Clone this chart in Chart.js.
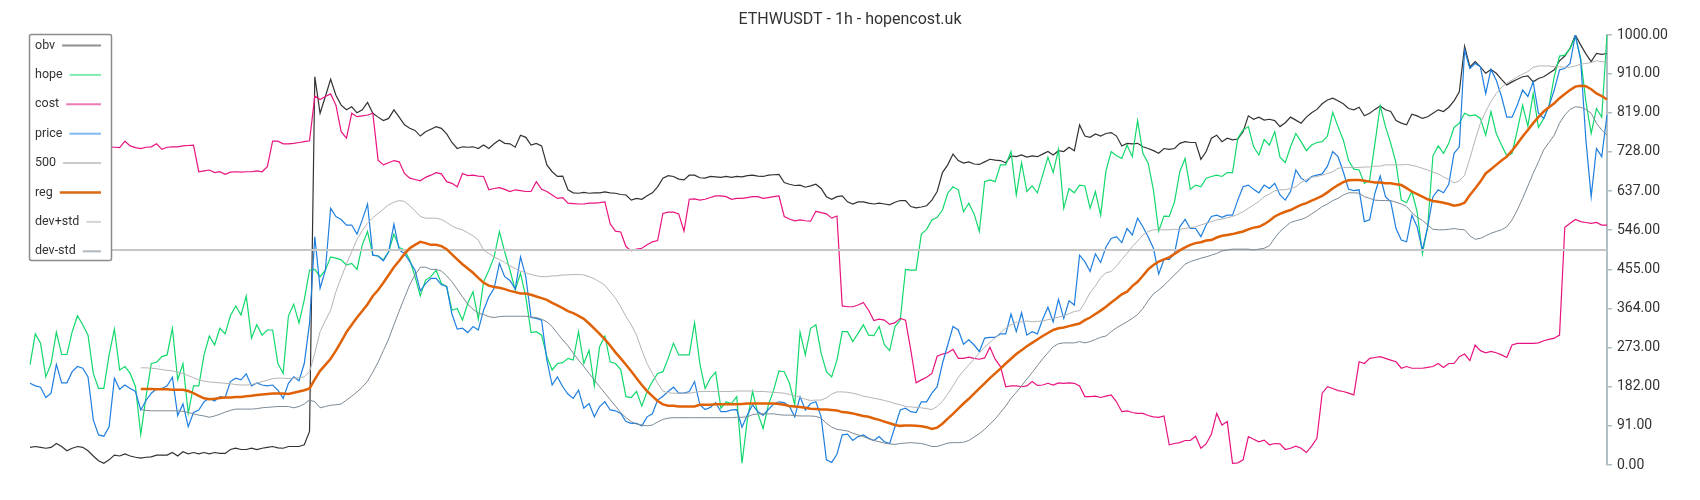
<!DOCTYPE html>
<html>
<head>
<meta charset="utf-8">
<script src="https://cdn.jsdelivr.net/npm/chart.js@4/dist/chart.umd.min.js"></script>
<style>
html,body{margin:0;padding:0;background:#ffffff;}
#wrap{width:1700px;height:500px;}
</style>
</head>
<body>
<div id="wrap"><canvas id="c" width="1700" height="500"></canvas></div>
<script>
const titleText = 'ETHWUSDT - 1h - hopencost.uk';
const yTicks = [0, 91, 182, 273, 364, 455, 546, 637, 728, 819, 910, 1000];

const obv = [
41,43,41,39,41,50,43,33,39,43,
41,33,21,10,4,12,23,21,26,21,
18,16,18,19,23,23,23,29,21,31,
26,29,26,29,26,29,27,27,36,39,
36,36,39,36,39,41,43,40,39,43,
43,43,47,78,903,818,857,897,860,837,
826,833,819,826,843,818,809,801,806,826,
809,791,783,778,765,775,781,787,783,770,
750,736,740,739,740,736,744,736,747,756,
748,747,739,767,762,744,748,742,698,682,
671,672,640,633,632,634,632,633,633,635,
633,632,629,628,616,620,618,626,633,647,
667,673,671,665,663,674,674,668,667,671,
670,669,671,669,671,670,673,674,672,671,
674,675,676,657,653,650,651,646,649,653,
643,624,618,624,626,612,607,612,612,609,
607,609,607,605,611,615,615,601,598,600,
603,616,636,680,698,723,708,702,705,700,
699,705,711,709,708,703,719,717,721,716,
719,717,723,729,721,731,729,739,731,791,
765,762,770,765,771,773,765,742,748,747,
748,740,736,731,725,736,734,736,748,752,
750,750,711,729,760,767,752,760,756,758,
775,812,804,809,802,804,801,787,796,809,
802,795,809,819,827,840,849,853,847,840,
829,826,832,812,818,827,835,826,822,801,
795,791,816,812,806,810,818,826,822,832,
847,868,974,926,938,926,911,920,911,897,
884,891,897,903,905,891,899,903,911,919,
940,951,969,1000,977,956,938,957,955,957
];

const hope = [
233,305,283,205,236,309,257,257,310,347,
326,302,213,178,178,256,316,221,229,213,
182,71,159,236,239,252,256,318,198,236,
120,184,184,256,300,279,318,305,347,370,
349,393,295,326,302,314,314,236,213,347,
374,330,384,453,455,438,453,484,481,477,
465,469,455,512,543,488,486,477,496,537,
506,500,477,438,393,430,438,453,422,415,
360,364,337,376,403,339,426,453,484,543,
496,453,407,446,391,308,310,302,252,221,
236,238,248,244,310,236,267,184,275,300,
240,236,222,159,157,171,137,171,194,213,
217,248,283,256,256,256,331,236,178,202,
216,132,147,143,159,4,105,171,120,85,
140,174,219,217,190,140,309,256,318,326,
260,217,205,244,310,310,287,306,326,302,
301,322,279,266,322,337,455,453,453,537,
548,570,576,593,632,647,640,589,609,584,
543,659,663,659,698,698,729,628,703,636,
649,633,674,716,680,734,597,643,633,651,
649,597,636,581,684,729,719,713,744,717,
801,725,702,640,544,579,578,612,682,713,
641,651,647,667,671,674,671,680,680,760,
779,787,740,721,757,744,775,716,703,740,
771,752,731,744,750,752,765,820,787,756,
708,688,686,655,663,748,835,787,748,702,
616,610,636,589,491,554,719,742,725,748,
785,795,818,812,814,806,767,822,771,744,
719,725,779,837,788,864,785,806,835,903,
951,953,969,996,946,845,771,829,809,1000
];

const cost = [
1000,745,745,745,745,745,745,745,745,745,
745,745,745,745,745,740,739,738,753,742,
738,736,739,740,747,734,739,740,740,742,
743,744,682,684,686,680,682,676,681,682,
681,682,682,684,682,694,753,753,747,747,
748,750,752,754,858,850,857,863,837,775,
760,818,810,812,814,818,709,698,703,708,
705,678,667,664,661,669,674,680,677,659,
655,647,678,673,674,672,671,640,643,645,
641,636,640,638,636,636,659,641,636,628,
620,622,609,608,607,607,609,609,610,612,
561,544,542,508,498,502,504,512,519,522,
585,588,588,584,544,618,619,616,618,622,
626,626,624,618,620,620,622,624,624,620,
622,624,626,578,572,568,570,568,567,590,
587,584,574,579,370,368,368,372,378,360,
336,339,337,327,331,341,337,267,191,198,
204,213,253,258,261,269,248,248,251,248,
246,249,274,246,229,182,184,184,182,184,
194,185,186,190,186,191,190,191,190,184,
159,159,160,157,160,163,147,124,126,122,
120,120,115,112,111,114,47,50,52,57,
57,67,39,49,72,120,93,101,4,5,
12,66,60,54,58,47,50,49,36,39,
44,39,29,44,62,167,182,178,173,171,
167,163,240,236,248,250,252,248,244,240,
225,229,225,225,225,227,229,236,227,236,
236,252,258,243,279,266,261,264,261,256,
250,279,283,283,283,283,284,289,292,295,
302,553,562,571,566,564,562,564,558,558
];

const price = [
190,184,181,157,167,234,191,191,217,229,
225,205,105,70,67,89,202,176,186,178,
171,128,150,167,177,178,184,204,115,142,
89,122,128,147,155,149,159,157,194,202,
198,212,184,191,186,184,186,174,155,190,
205,196,236,330,531,411,453,597,578,571,
558,558,537,570,607,488,486,475,496,560,
500,492,473,453,405,422,434,434,419,415,
351,316,318,308,322,314,360,391,411,469,
438,429,409,484,438,343,341,337,244,186,
205,182,165,155,174,132,143,112,136,147,
128,126,120,101,97,97,91,112,119,151,
160,171,181,167,167,171,194,140,129,134,
145,124,124,128,129,88,116,140,124,116,
129,142,147,145,136,112,159,128,143,147,
112,12,6,25,70,72,57,66,70,62,
57,66,54,50,89,128,132,124,122,147,
147,167,182,236,279,322,314,281,291,279,
264,295,297,297,305,305,351,310,354,302,
310,305,339,367,333,385,341,382,372,488,
473,450,491,471,507,527,531,517,550,535,
574,554,531,504,444,478,478,492,554,571,
550,550,531,558,578,581,576,581,581,616,
647,651,641,633,651,643,655,628,616,636,
686,667,659,671,674,677,695,729,717,682,
641,638,640,566,570,632,672,624,612,550,
523,519,581,554,500,554,624,640,633,653,
725,740,965,922,934,926,864,920,895,857,
809,809,837,872,857,891,818,806,835,872,
919,922,934,1000,942,756,624,736,717,814
];

const reg = [
null,null,null,null,null,null,null,null,null,null,
null,null,null,null,null,null,null,null,null,null,
null,177,177,177,176,176,176,175,175,175,
172,167,161,155,153,154,156,157,157,158,
158,160,161,163,164,165,166,166,166,165,
168,171,174,178,199,219,233,247,266,287,
309,326,343,358,374,393,407,424,442,460,
475,491,504,512,519,516,512,512,509,502,
490,478,467,457,447,435,424,417,414,412,
409,405,402,399,399,396,392,388,384,377,
371,365,358,353,347,340,329,317,305,292,
278,262,248,233,218,202,186,172,160,149,
141,138,138,136,136,136,136,140,140,140,
141,141,141,141,141,142,143,143,143,143,
143,143,142,140,137,136,135,133,131,130,
129,129,128,127,123,122,120,117,114,112,
108,105,101,97,93,91,92,92,91,90,
88,84,87,96,108,119,131,143,154,166,
178,190,202,213,224,236,247,258,267,276,
284,292,300,307,314,318,320,323,326,329,
337,343,351,359,368,378,387,397,403,416,
426,440,455,465,473,478,483,491,499,506,
512,516,518,522,523,529,533,535,537,540,
543,548,552,554,560,568,578,584,589,593,
599,605,609,615,620,626,634,643,651,658,
662,663,663,661,659,657,657,655,655,653,
651,644,636,630,624,618,614,612,610,607,
603,605,610,628,643,659,678,688,698,708,
717,731,747,764,779,795,809,822,832,841,
853,863,872,880,882,881,874,864,858,850
];

const devPlus = [
null,null,null,null,null,null,null,null,null,null,
null,null,null,null,null,null,null,null,null,null,
null,226,226,225,224,222,220,219,216,213,
208,203,198,195,193,192,191,190,189,187,
186,186,187,190,194,197,201,202,202,201,
202,203,205,217,260,310,336,360,403,436,
467,496,525,545,562,575,585,595,605,611,
615,613,603,591,578,574,574,574,571,564,
556,550,547,540,533,523,500,492,484,478,
471,463,457,451,447,443,440,438,438,440,
440,442,442,443,443,442,438,433,426,418,
403,388,368,345,326,302,267,236,213,190,
172,168,167,167,167,167,169,171,171,171,
171,171,171,171,172,172,172,172,171,171,
170,169,168,167,164,161,157,153,150,151,
151,156,165,170,170,169,167,164,160,158,
155,153,150,147,143,140,136,135,134,133,
131,129,136,148,165,184,204,219,233,246,
261,274,285,296,308,318,326,332,333,335,
333,334,335,338,341,344,347,352,357,359,
378,401,416,436,447,450,463,478,492,508,
521,535,543,547,547,547,547,548,548,550,
552,554,558,562,566,570,572,575,578,583,
589,597,605,613,624,630,638,640,640,643,
647,657,664,669,671,674,678,682,690,692,
692,692,692,693,693,695,695,698,698,698,
698,699,697,694,690,686,681,677,670,664,
656,661,674,713,756,795,822,845,864,878,
888,895,903,909,915,925,928,928,928,926,
926,925,925,928,932,934,936,940,938,936
];

const devMinus = [
null,null,null,null,null,null,null,null,null,null,
null,null,null,null,null,null,null,null,null,null,
null,129,127,126,126,126,126,126,126,125,
122,119,116,114,111,114,118,123,127,130,
130,130,130,131,133,134,135,136,136,136,
133,136,142,151,147,133,136,139,140,142,
151,160,170,181,195,216,239,266,293,326,
358,389,419,442,460,460,455,455,451,440,
426,409,391,374,362,353,350,345,343,345,
346,346,346,346,346,344,343,339,333,322,
306,291,277,260,244,229,213,198,182,167,
152,137,122,110,101,95,93,91,93,100,
106,109,110,110,110,110,110,110,110,110,
110,110,110,110,111,111,112,117,119,119,
119,119,117,116,116,115,114,114,114,113,
109,97,88,83,81,79,74,70,66,61,
57,54,51,49,48,50,51,52,51,50,
47,43,43,47,51,52,52,53,57,65,
73,83,95,107,122,137,155,169,184,200,
215,231,247,261,275,282,284,284,284,287,
284,287,292,297,300,310,319,326,333,341,
350,364,382,398,407,418,430,442,454,467,
473,477,481,484,488,492,498,500,502,502,
502,502,500,502,504,510,528,543,554,564,
568,571,576,584,592,601,607,615,620,628,
633,633,632,624,620,616,615,615,615,611,
607,601,587,576,569,558,548,547,547,548,
550,548,547,533,525,527,533,539,543,547,
554,570,593,620,649,678,705,733,750,767,
795,814,827,833,832,827,818,795,779,767
];

const LEVEL = 500;
const labels = hope.map((_, i) => i);
const level500 = labels.map(() => LEVEL);

const seriesDefs = [
  { label: 'obv',     data: obv,      color: '#333333', width: 1.2, legend: '#8f8f8f', lw: 2 },
  { label: 'hope',    data: hope,     color: '#12d86c', width: 1.2, legend: '#7eeaac', lw: 2 },
  { label: 'cost',    data: cost,     color: '#e8137f', width: 1.2, legend: '#ee7bb5', lw: 2 },
  { label: 'price',   data: price,    color: '#1f7fe0', width: 1.2, legend: '#7fb9ee', lw: 2 },
  { label: '500',     data: level500, color: '#c6c6c6', width: 2,   legend: '#c9c9c9', lw: 2 },
  { label: 'reg',     data: reg,      color: '#e06206', width: 2.5, legend: '#db6a14', lw: 2.5 },
  { label: 'dev+std', data: devPlus,  color: '#b4b4b4', width: 1,   legend: '#d2d6da', lw: 2 },
  { label: 'dev-std', data: devMinus, color: '#7b8994', width: 1,   legend: '#b0b8be', lw: 2 }
];

const datasets = seriesDefs.map((s, i) => ({
  label: s.label,
  data: s.data,
  borderColor: s.color,
  backgroundColor: s.color,
  borderWidth: s.width,
  pointRadius: 0,
  pointHoverRadius: 0,
  tension: 0,
  fill: false,
  spanGaps: false,
  order: seriesDefs.length - i,
  legendColor: s.legend,
  legendWidth: s.lw
}));

const overlayPlugin = {
  id: 'overlay',
  afterDraw(chart) {
    const ctx = chart.ctx;
    ctx.save();
    // title
    ctx.font = '16px Roboto';
    ctx.fillStyle = '#333333';
    ctx.textAlign = 'center';
    ctx.textBaseline = 'middle';
    ctx.fillText(titleText, 850, 20);
    // legend box
    const x0 = 29.5, y0 = 34.5, w = 82, h = 226, r = 2;
    ctx.beginPath();
    ctx.moveTo(x0 + r, y0);
    ctx.lineTo(x0 + w - r, y0);
    ctx.quadraticCurveTo(x0 + w, y0, x0 + w, y0 + r);
    ctx.lineTo(x0 + w, y0 + h - r);
    ctx.quadraticCurveTo(x0 + w, y0 + h, x0 + w - r, y0 + h);
    ctx.lineTo(x0 + r, y0 + h);
    ctx.quadraticCurveTo(x0, y0 + h, x0, y0 + h - r);
    ctx.lineTo(x0, y0 + r);
    ctx.quadraticCurveTo(x0, y0, x0 + r, y0);
    ctx.closePath();
    ctx.fillStyle = '#ffffff';
    ctx.fill();
    ctx.strokeStyle = '#8c8c8c';
    ctx.lineWidth = 1.5;
    ctx.stroke();
    ctx.font = '12.5px Roboto';
    ctx.textAlign = 'left';
    ctx.textBaseline = 'middle';
    chart.data.datasets.forEach((ds, i) => {
      const y = 45.5 + i * 29.4;
      ctx.fillStyle = '#333333';
      ctx.fillText(ds.label, 35, y);
      const tw = ctx.measureText(ds.label).width;
      ctx.strokeStyle = ds.legendColor;
      ctx.lineWidth = ds.legendWidth;
      ctx.beginPath();
      ctx.moveTo(35 + tw + 7, y);
      ctx.lineTo(101, y);
      ctx.stroke();
    });
    ctx.restore();
  }
};

new Chart(document.getElementById('c'), {
  type: 'line',
  data: { labels: labels, datasets: datasets },
  options: {
    responsive: false,
    devicePixelRatio: 1,
    animation: false,
    layout: { padding: { left: 30, right: 0, top: 35, bottom: 35 } },
    plugins: {
      legend: { display: false },
      title: { display: false },
      tooltip: { enabled: false }
    },
    scales: {
      x: { display: false, offset: false },
      y: {
        position: 'right',
        min: 0,
        max: 1000,
        afterBuildTicks: (axis) => { axis.ticks = yTicks.map(v => ({ value: v })); },
        afterFit: (axis) => { axis.width = 93; },
        ticks: {
          callback: (v) => Number(v).toFixed(2),
          color: '#333333',
          font: { family: 'Roboto', size: 14 },
          padding: 5
        },
        grid: { drawOnChartArea: false, drawTicks: true, tickLength: 5, color: '#b0bec5', lineWidth: 1.5 },
        border: { display: true, color: '#b0bec5', width: 2 }
      }
    }
  },
  plugins: [overlayPlugin]
});
</script>
</body>
</html>
